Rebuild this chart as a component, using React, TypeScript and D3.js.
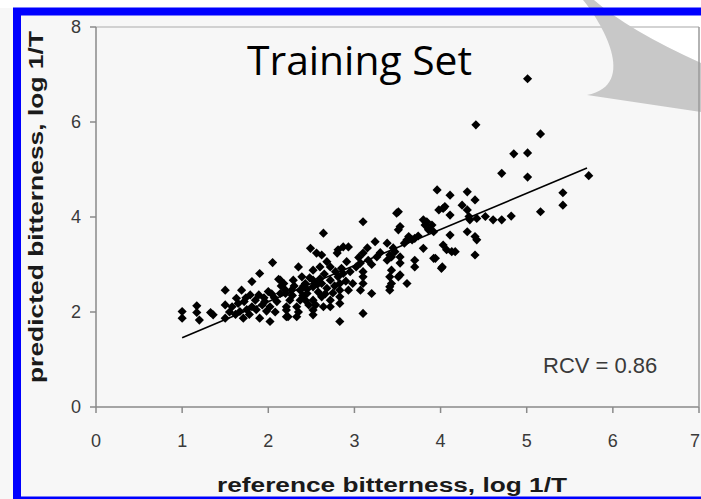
import React from 'react';
import * as d3 from 'd3';

const W = 701;
const H = 499;

const xTicks = [0, 1, 2, 3, 4, 5, 6, 7];
const yTicks = [0, 2, 4, 6, 8];

// Training compounds: [reference bitterness, predicted bitterness], both log 1/T
const lowRange: [number, number][] = [
  [1.0, 2.01], [1.0, 1.87], [1.17, 2.13], [1.17, 1.99], [1.2, 1.83], [1.33, 1.99], [1.36, 1.94],
  [1.5, 2.46], [1.5, 2.15], [1.5, 1.87], [1.58, 2.11], [1.63, 2.29], [1.67, 2.01], [1.69, 2.46],
  [1.71, 1.87], [1.81, 2.64], [1.79, 2.36], [1.81, 2.11], [1.9, 2.81], [1.89, 2.36], [1.9, 1.87],
  [2.02, 1.8], [2.05, 3.04], [2.0, 2.43], [2.02, 2.11], [2.12, 2.69], [2.14, 2.39], [2.1, 2.22],
  [2.2, 2.46], [2.21, 2.11], [2.21, 1.9], [1.65, 2.18], [1.72, 2.22], [1.75, 2.05], [1.85, 2.25],
  [1.93, 2.15], [1.95, 2.3], [1.98, 2.02], [2.07, 2.3], [2.15, 2.55], [1.55, 2.0], [1.62, 1.95],
  [1.78, 1.95], [2.08, 2.0], [1.86, 2.05], [1.96, 2.22], [2.04, 2.38], [1.74, 2.3],
];

const midRange: [number, number][] = [
  [2.14, 2.67], [2.29, 2.67], [2.39, 2.74], [2.43, 2.6], [2.52, 2.67], [2.52, 2.53], [2.62, 2.6],
  [2.72, 2.67], [2.81, 2.74], [2.87, 2.81], [2.83, 2.6], [2.83, 2.46], [2.83, 2.32], [2.83, 2.18],
  [2.93, 2.46], [2.2, 2.39], [2.25, 2.25], [2.21, 2.04], [2.23, 1.9], [2.33, 1.9], [2.37, 2.46],
  [2.37, 2.25], [2.45, 2.39], [2.52, 2.25], [2.52, 2.04], [2.52, 1.94], [2.62, 2.32], [2.72, 2.25],
  [2.72, 2.11], [2.64, 2.11], [2.33, 2.11], [2.18, 2.6], [2.27, 2.46], [2.43, 2.25], [2.35, 2.95],
  [2.52, 2.88], [2.68, 3.06], [2.72, 2.95], [2.91, 3.06], [2.85, 2.92], [2.64, 3.66], [2.49, 3.34],
  [2.56, 3.24], [2.62, 3.2], [2.81, 3.31], [2.87, 3.37], [2.93, 3.37], [2.8, 3.24], [2.83, 1.8],
  [2.3, 2.55], [2.45, 2.48], [2.58, 2.42], [2.68, 2.5], [2.4, 2.35], [2.55, 2.15], [2.65, 2.8],
  [2.9, 2.65], [2.75, 2.4], [2.48, 2.72], [2.95, 2.85], [2.6, 2.95], [2.28, 2.35], [2.41, 2.55],
  [2.57, 2.58], [2.66, 2.38], [2.77, 2.55], [2.47, 2.15], [2.35, 2.0], [2.6, 2.7], [2.78, 2.85],
  [2.98, 2.6],
];

const upperRange: [number, number][] = [
  [3.1, 3.9], [3.1, 3.24], [3.24, 3.48], [3.38, 3.45], [3.49, 4.08], [3.51, 3.73], [3.07, 3.03],
  [3.1, 2.85], [3.16, 3.09], [3.26, 3.16], [3.38, 3.09], [3.41, 3.2], [3.47, 3.27], [3.41, 2.74],
  [3.41, 2.53], [3.41, 2.46], [3.51, 2.74], [3.1, 2.74], [3.1, 2.6], [3.07, 2.46], [3.2, 2.39],
  [3.1, 1.97], [3.43, 3.16], [3.53, 3.16], [3.53, 3.03], [3.43, 2.88], [3.53, 2.78], [3.61, 2.6],
  [3.43, 2.6], [3.53, 3.8], [3.51, 4.11], [3.02, 2.95], [3.2, 3.0], [3.3, 3.25], [3.15, 3.35],
  [3.45, 3.35], [3.05, 3.15],
  [3.63, 3.59], [3.67, 3.52], [3.7, 3.55], [3.61, 3.52], [3.8, 3.34], [3.8, 3.94], [3.82, 3.83],
  [3.9, 3.83], [3.92, 3.69], [3.86, 3.73], [3.84, 3.9], [3.96, 4.57], [4.11, 4.46], [4.31, 4.53],
  [4.4, 4.36], [4.25, 4.25], [3.98, 4.15], [4.03, 4.18], [4.05, 4.22], [4.11, 4.04], [4.31, 4.15],
  [4.33, 4.01], [4.34, 3.94], [4.42, 3.97], [4.52, 4.01], [4.61, 3.94], [4.71, 3.94], [4.82, 4.02],
  [4.11, 3.62], [4.31, 3.69], [4.4, 3.59], [4.42, 3.52], [4.03, 3.41], [4.07, 3.31], [4.13, 3.27],
  [4.17, 3.27], [4.4, 3.2], [3.92, 3.13], [4.02, 2.95], [3.7, 3.09], [3.7, 2.95], [3.94, 3.13],
  [4.01, 2.92], [3.58, 3.45], [3.74, 3.6],
];

const highRange: [number, number][] = [
  [4.71, 4.92], [4.85, 5.33], [5.01, 5.35], [5.01, 4.84], [5.72, 4.87], [5.42, 4.51], [5.42, 4.25],
  [5.16, 4.11], [5.01, 6.91], [4.41, 5.94], [5.16, 5.75],
];

const trainingSet = [...lowRange, ...midRange, ...upperRange, ...highRange];

// Least-squares fit drawn across the observed reference range
const fitLine: [number, number][] = [[1.0, 1.46], [5.7, 5.03]];

const panelTitle = 'Training Set';
const rcvLabel = 'RCV = 0.86';
const xTitle = 'reference bitterness, log 1/T';
const yTitle = 'predicted bitterness, log 1/T';

const SANS = '"Liberation Sans", Arial, sans-serif';

export default function App() {
  const x = d3.scaleLinear().domain([0, 7]).range([96, 699]);
  const y = d3.scaleLinear().domain([0, 8]).range([407, 27]);
  const diamond = d3.symbol(d3.symbolSquare, 42)() as string;
  const fit = d3
    .line<[number, number]>()
    .x((d) => x(d[0]))
    .y((d) => y(d[1]))(fitLine) as string;

  const [x0, x1] = x.range();
  const [yBottom, yTop] = y.range();

  return (
    <svg
      width={W}
      height={H}
      viewBox={`0 0 ${W} ${H}`}
      style={{ position: 'absolute', left: 0, top: 0, display: 'block' }}
    >
      {/* slide background */}
      <rect x={0} y={0} width={W} height={H} fill="#f7f7f7" />
      <rect x={0} y={0} width={W} height={8} fill="#ffffff" />
      <path d="M594,0 L701,0 L701,63 Q628,30 594,0 Z" fill="#ffffff" />

      {/* plot frame */}
      <line x1={x0} x2={x1} y1={yTop} y2={yTop} stroke="#c4c4c4" strokeWidth={1.5} />

      {/* axes */}
      <line x1={x0} x2={x0} y1={yTop} y2={yBottom} stroke="#8a8a8a" strokeWidth={1.5} />
      <line x1={x0} x2={x1} y1={yBottom} y2={yBottom} stroke="#8a8a8a" strokeWidth={1.5} />
      {yTicks.map((t) => (
        <g key={`y${t}`}>
          <line x1={x0 - 6} x2={x0} y1={y(t)} y2={y(t)} stroke="#8a8a8a" strokeWidth={1.5} />
          <text
            x={x0 - 15}
            y={y(t)}
            dy="0.36em"
            textAnchor="end"
            fontFamily={SANS}
            fontSize={18}
            fill="#3a3a3a"
          >
            {t}
          </text>
        </g>
      ))}
      {xTicks.map((t) => (
        <g key={`x${t}`}>
          <line x1={x(t)} x2={x(t)} y1={yBottom} y2={yBottom + 6} stroke="#8a8a8a" strokeWidth={1.5} />
          <text
            x={Math.min(x(t), 695)}
            y={447}
            textAnchor="middle"
            fontFamily={SANS}
            fontSize={18}
            fill="#3a3a3a"
          >
            {t}
          </text>
        </g>
      ))}

      {/* fitted line */}
      <path d={fit} fill="none" stroke="#000" strokeWidth={1.6} />

      {/* data points */}
      {trainingSet.map((d, i) => (
        <path
          key={i}
          d={diamond}
          transform={`translate(${x(d[0])},${y(d[1])}) rotate(45)`}
          fill="#000"
        />
      ))}

      {/* annotations */}
      <text x={543} y={373} fontFamily={SANS} fontSize={22} fill="#3a3a3a">
        {rcvLabel}
      </text>
      <text
        x={247}
        y={75}
        fontFamily='"Open Sans", "Noto Sans", sans-serif'
        fontSize={40}
        fill="#000"
        textLength={225}
        lengthAdjust="spacingAndGlyphs"
      >
        {panelTitle}
      </text>

      {/* axis titles */}
      <text
        x={392}
        y={492}
        textAnchor="middle"
        fontFamily={SANS}
        fontWeight="bold"
        fontSize={20}
        fill="#1a1a1a"
        textLength={350}
        lengthAdjust="spacingAndGlyphs"
      >
        {xTitle}
      </text>
      <text
        transform="translate(43,207) rotate(-90)"
        textAnchor="middle"
        fontFamily={SANS}
        fontWeight="bold"
        fontSize={20}
        fill="#1a1a1a"
        textLength={352}
        lengthAdjust="spacingAndGlyphs"
      >
        {yTitle}
      </text>

      {/* callout pointer */}
      <path d="M583,0 C600,20 640,85 587,95 L701,112 L701,63 Q628,30 594,0 Z" fill="#c8c8c8" />
      <line x1={x1} x2={x1} y1={yTop} y2={yBottom} stroke="#9a9a9a" strokeWidth={1.5} />

      {/* slide border */}
      <rect x={17} y={11.5} width={720} height={489} fill="none" stroke="#0000ff" strokeWidth={8} />
    </svg>
  );
}
